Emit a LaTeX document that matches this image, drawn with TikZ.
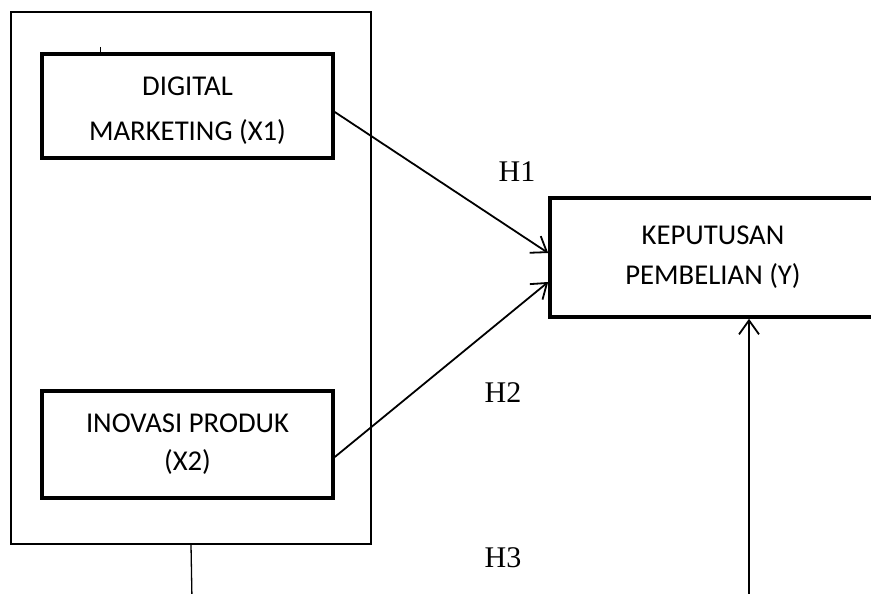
\documentclass[tikz,border=0pt]{standalone}
\usepackage{fontspec}
\setmainfont{Carlito}
\newfontfamily\hfont{Liberation Serif}
\usetikzlibrary{arrows.meta}
\tikzset{
  frame/.style={draw, line width=1.3pt, inner sep=0pt},
  varbox/.style={draw, line width=3.6pt, inner sep=0pt, align=center},
  conn/.style={line width=1.8pt, -{Straight Barb[length=14pt,width=20pt,line width=1.8pt]}},
  thin/.style={line width=1.3pt},
  hyp/.style={font=\hfont\fontsize{30}{30}\selectfont, inner sep=0pt}
}
\begin{document}
\begin{tikzpicture}[x=1pt,y=-1pt]
\useasboundingbox (0,0) rectangle (871,594);
\clip (0,0) rectangle (871,594);
\node[frame, minimum width=360pt, minimum height=532pt] (outer) at (191,278) {};
\node[varbox, minimum width=291pt, minimum height=104pt, font=\fontsize{28.7}{45}\selectfont] (dm) at (187.5,106) {\rule{0pt}{28pt}DIGITAL\\MARKETING (X1)};
\node[varbox, minimum width=291pt, minimum height=107pt, font=\fontsize{28.7}{38}\selectfont] (ip) at (187.5,444.5) {INOVASI PRODUK\\(X2)};
\node[varbox, minimum width=326pt, minimum height=119pt, font=\fontsize{28.7}{40}\selectfont] (y) at (713,257.5) {KEPUTUSAN\\PEMBELIAN (Y)};
\node[hyp] (h1) at (517,172) {H1};
\node[hyp] (h2) at (503,393) {H2};
\node[hyp] (h3) at (503,558) {H3};
\draw[conn] ([yshift=-6pt]dm.east) -- ([yshift=4.5pt]y.west);
\draw[conn] ([yshift=-12.5pt]ip.east) -- ([yshift=-24.5pt]y.west);
\coordinate (v0) at (749,600);
\draw[conn] (v0) -- (v0 |- y.south);
\coordinate (b0) at (192,600);
\draw[thin] (outer.south) -- (b0);
\coordinate (t0) at (100,47);
\draw[line width=1pt] (t0) -- (t0 |- dm.north);
\end{tikzpicture}
\end{document}
